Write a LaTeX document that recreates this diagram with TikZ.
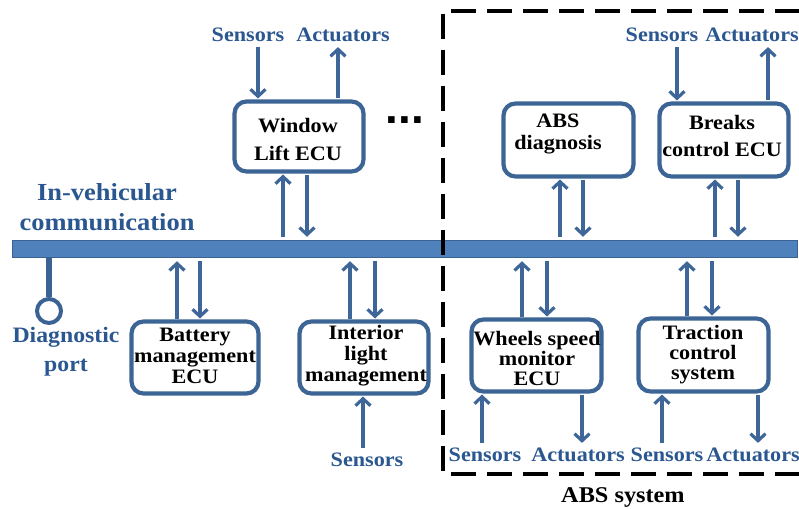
\documentclass[tikz,border=0pt]{standalone}
\usepackage{fontspec}
\setmainfont{Liberation Serif}[FakeStretch=1.08]
\newfontfamily\dotsfont{Liberation Sans}
\usetikzlibrary{arrows.meta}
\definecolor{busfill}{HTML}{4F81BD}
\definecolor{busline}{HTML}{3A6394}
\definecolor{boxline}{HTML}{3C6595}
\definecolor{arrline}{HTML}{3F6698}
\definecolor{txtblue}{HTML}{2B5790}
\begin{document}
\begin{tikzpicture}[x=1pt,y=-1pt,
  ecu/.style={draw=boxline, line width=4.2pt, rounded corners=12pt, fill=white, inner sep=0pt, outer sep=0pt},
  ecutext/.style={font=\bfseries\fontsize{20.5}{#1}\selectfont, align=center, text=black, inner sep=0pt},
  io/.style={font=\bfseries\fontsize{20.5}{22}\selectfont, text=txtblue, inner sep=2pt},
  arr/.style={draw=arrline, line width=3.2pt, -{Straight Barb[length=7pt,width=15pt]}, shorten >=3pt, shorten <=3pt}]
\useasboundingbox (0,0) rectangle (799,508);

% bus
\node[draw=busline, fill=busfill, line width=1.5pt, minimum width=785pt, minimum height=17pt, inner sep=0pt] (bus) at (405,249) {};

% diagnostic port
\node[circle, draw=busline, line width=4pt, minimum size=24pt, inner sep=0pt] (dp) at (49,311) {};
\draw[busline, line width=5.5pt] (bus.south -| 49,0) -- (dp.north);
\node[font=\bfseries\fontsize{22}{29}\selectfont, text=txtblue, align=center] (dptxt) at (66,352) {Diagnostic\\port};

\node[font=\bfseries\fontsize{24.5}{30}\selectfont, text=txtblue, align=center] (ivc) at (107,207) {In-vehicular\\communication};

% boxes
\node[ecu, minimum width=127pt, minimum height=72pt] (bat) at (195,357.5) {};
\node[ecutext=21] (battxt) at (195,356) {Battery\\management\\ECU};
\node[ecu, minimum width=129pt, minimum height=72pt] (intl) at (364,357.5) {};
\node[ecutext=21] (intltxt) at (366,356) {Interior\\light\\management};
\node[ecu, minimum width=129pt, minimum height=70pt] (win) at (299,136.5) {};
\node[ecutext=28] (wintxt) at (298,139) {Window\\Lift ECU};
\node[ecu, minimum width=130pt, minimum height=73pt] (absd) at (568.5,140) {};
\node[ecutext=22] (absdtxt) at (558,134) {ABS\\diagnosis};
\node[ecu, minimum width=129pt, minimum height=73pt] (brk) at (724,140) {};
\node[ecutext=27] (brktxt) at (722,136) {Breaks\\control ECU};
\node[ecu, minimum width=130pt, minimum height=72pt] (whl) at (536.5,355.5) {};
\node[ecutext=20] (whltxt) at (537,358) {Wheels speed\\monitor\\ECU};
\node[ecu, minimum width=130pt, minimum height=73pt] (trc) at (703.5,355) {};
\node[ecutext=20] (trctxt) at (703,355) {Traction\\control\\system};

% dots
\node[font=\dotsfont\bfseries\fontsize{46}{46}\selectfont, inner sep=0pt] (dots) at (405,120) {...};

% io labels
\node[io] (ws) at (248,35) {Sensors};
\node[io] (wa) at (343,35) {Actuators};
\node[io] (bs) at (662,35) {Sensors};
\node[io] (ba) at (752,35) {Actuators};
\node[io] (is) at (367,460) {Sensors};
\node[io] (whs) at (485,455) {Sensors};
\node[io] (wha) at (578,455) {Actuators};
\node[io] (trs) at (667,455) {Sensors};
\node[io] (tra) at (753,455) {Actuators};

% window lift
\draw[arr] (ws.south -| 258,0) -- (win.north -| 258,0);
\draw[arr] (win.north -| 338,0) -- (wa.south -| 338,0);
\draw[arr] (bus.north -| 283,0) -- (win.south -| 283,0);
\draw[arr] (win.south -| 307,0) -- (bus.north -| 307,0);
% ABS diagnosis
\draw[arr] (bus.north -| 560,0) -- (absd.south -| 560,0);
\draw[arr] (absd.south -| 583,0) -- (bus.north -| 583,0);
% breaks
\draw[arr] (bs.south -| 677,0) -- (brk.north -| 677,0);
\draw[arr] (brk.north -| 768,0) -- (ba.south -| 768,0);
\draw[arr] (bus.north -| 715,0) -- (brk.south -| 715,0);
\draw[arr] (brk.south -| 738,0) -- (bus.north -| 738,0);
% battery
\draw[arr] (bat.north -| 177,0) -- (bus.south -| 177,0);
\draw[arr] (bus.south -| 200,0) -- (bat.north -| 200,0);
% interior
\draw[arr] (intl.north -| 350,0) -- (bus.south -| 350,0);
\draw[arr] (bus.south -| 375,0) -- (intl.north -| 375,0);
\draw[arr] (is.north -| 363,0) -- (intl.south -| 363,0);
% wheels
\draw[arr] (whl.north -| 522,0) -- (bus.south -| 522,0);
\draw[arr] (bus.south -| 547,0) -- (whl.north -| 547,0);
\draw[arr] (whs.north -| 482,0) -- (whl.south -| 482,0);
\draw[arr] (whl.south -| 582,0) -- (wha.north -| 582,0);
% traction
\draw[arr] (trc.north -| 687,0) -- (bus.south -| 687,0);
\draw[arr] (bus.south -| 712,0) -- (trc.north -| 712,0);
\draw[arr] (trs.north -| 662,0) -- (trc.south -| 662,0);
\draw[arr] (trc.south -| 758,0) -- (tra.north -| 758,0);

% ABS system frame
\draw[black, line width=3.2pt, dash pattern=on 25pt off 11pt] (800,11) -| (443,474) -- (800,474);
\node[font=\bfseries\fontsize{22.5}{26}\selectfont, text=black] (abssys) at (623,497) {ABS system};
\end{tikzpicture}
\end{document}
